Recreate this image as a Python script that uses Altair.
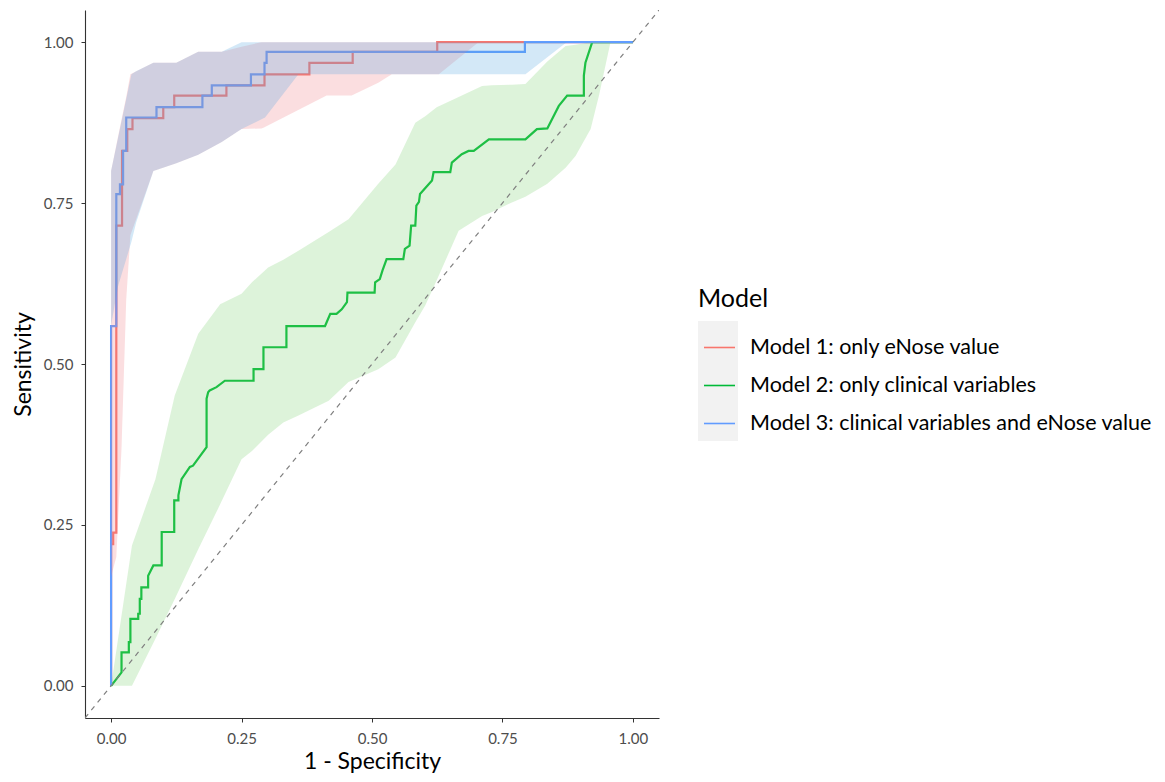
import altair as alt
import pandas as pd

FONT = "Lato"

models = [
    "Model 1: only eNose value",
    "Model 2: only clinical variables",
    "Model 3: clinical variables and eNose value",
]
line_colors = ["#F8766D", "#00BA38", "#619CFF"]
ribbon_colors = ["#EE7A85", "#77CF6B", "#4FA4E0"]
tick_values = [0.0, 0.25, 0.5, 0.75, 1.0]
diag = [-0.05, 1.05]

# ROC curves (1 - specificity, sensitivity)
m1_fpr = [0.000, 0.000, 0.004, 0.004, 0.010, 0.010, 0.021, 0.021, 0.031, 0.031,
          0.041, 0.041, 0.100, 0.100, 0.121, 0.121, 0.221, 0.221, 0.294, 0.294,
          0.380, 0.380, 0.463, 0.463, 0.625, 0.625, 1.000]
m1_tpr = [0.000, 0.220, 0.220, 0.238, 0.238, 0.715, 0.715, 0.831, 0.831, 0.865,
          0.865, 0.882, 0.882, 0.899, 0.899, 0.917, 0.917, 0.933, 0.933, 0.950,
          0.950, 0.968, 0.968, 0.985, 0.985, 1.000, 1.000]

m2_fpr = [0.000, 0.020, 0.020, 0.034, 0.034, 0.037, 0.037, 0.052, 0.052, 0.055,
          0.055, 0.058, 0.058, 0.071, 0.071, 0.081, 0.097, 0.097, 0.121, 0.121,
          0.129, 0.129, 0.135, 0.151, 0.157, 0.183, 0.183, 0.186, 0.189, 0.202,
          0.218, 0.273, 0.273, 0.292, 0.292, 0.336, 0.336, 0.410, 0.420, 0.432,
          0.442, 0.452, 0.453, 0.505, 0.506, 0.515, 0.520, 0.528, 0.560, 0.563,
          0.572, 0.575, 0.583, 0.585, 0.590, 0.592, 0.615, 0.618, 0.650, 0.653,
          0.672, 0.685, 0.695, 0.724, 0.794, 0.816, 0.836, 0.858, 0.874, 0.906,
          0.906, 0.909, 0.922, 1.000]
m2_tpr = [0.000, 0.021, 0.052, 0.052, 0.068, 0.068, 0.104, 0.104, 0.112, 0.112,
          0.135, 0.135, 0.153, 0.153, 0.171, 0.187, 0.187, 0.239, 0.239, 0.288,
          0.288, 0.296, 0.321, 0.340, 0.342, 0.371, 0.446, 0.456, 0.459, 0.464,
          0.474, 0.474, 0.492, 0.492, 0.526, 0.526, 0.559, 0.559, 0.578, 0.578,
          0.585, 0.596, 0.611, 0.611, 0.627, 0.632, 0.645, 0.663, 0.663, 0.679,
          0.684, 0.715, 0.715, 0.746, 0.752, 0.764, 0.785, 0.798, 0.798, 0.813,
          0.826, 0.831, 0.831, 0.849, 0.849, 0.865, 0.866, 0.901, 0.917, 0.917,
          0.948, 0.968, 1.000, 1.000]

m3_fpr = [0.000, 0.000, 0.010, 0.010, 0.017, 0.017, 0.023, 0.023, 0.029, 0.029,
          0.087, 0.087, 0.175, 0.175, 0.193, 0.193, 0.268, 0.268, 0.294, 0.294,
          0.298, 0.298, 0.793, 0.793, 1.000]
m3_tpr = [0.000, 0.559, 0.559, 0.764, 0.764, 0.779, 0.779, 0.831, 0.831, 0.883,
          0.883, 0.899, 0.899, 0.917, 0.917, 0.933, 0.933, 0.950, 0.950, 0.968,
          0.968, 0.985, 0.985, 1.000, 1.000]

# Confidence bands of sensitivity
r_x = [0.000, 0.010, 0.020, 0.029, 0.037, 0.081, 0.125, 0.167, 0.212, 0.250,
       0.288, 0.292, 0.413, 0.461, 0.512, 0.538, 0.628, 0.704, 1.000]
r_lo = [0.170, 0.200, 0.370, 0.600, 0.700, 0.800, 0.812, 0.825, 0.845, 0.865,
        0.866, 0.867, 0.917, 0.917, 0.937, 0.950, 0.950, 1.000, 1.000]
r_hi = [0.800, 0.840, 0.880, 0.915, 0.950, 0.968, 0.968, 0.985, 0.985, 0.993,
        1.000, 1.000, 1.000, 1.000, 1.000, 1.000, 1.000, 1.000, 1.000]

g_x = [0.000, 0.040, 0.085, 0.122, 0.167, 0.209, 0.250, 0.270, 0.301, 0.330,
       0.359, 0.417, 0.455, 0.512, 0.545, 0.583, 0.602, 0.624, 0.666, 0.711,
       0.730, 0.768, 0.794, 0.836, 0.871, 0.890, 0.919, 0.935, 0.957]
g_lo = [0.000, 0.000, 0.073, 0.135, 0.212, 0.282, 0.352, 0.365, 0.390, 0.409,
        0.420, 0.443, 0.472, 0.492, 0.510, 0.565, 0.591, 0.630, 0.707, 0.730,
        0.736, 0.751, 0.760, 0.780, 0.805, 0.823, 0.865, 0.917, 1.000]
g_hi = [0.000, 0.218, 0.321, 0.451, 0.547, 0.593, 0.609, 0.627, 0.650, 0.662,
        0.676, 0.705, 0.725, 0.780, 0.810, 0.875, 0.885, 0.899, 0.915, 0.932,
        0.933, 0.934, 0.935, 0.970, 0.994, 0.996, 1.000, 1.000, 1.000]

b_x = [0.000, 0.013, 0.039, 0.048, 0.081, 0.125, 0.167, 0.212, 0.250, 0.295,
       0.359, 0.794, 0.873, 1.000]
b_lo = [0.560, 0.620, 0.690, 0.720, 0.800, 0.812, 0.825, 0.845, 0.865, 0.883,
        0.950, 0.950, 1.000, 1.000]
b_hi = [0.800, 0.850, 0.950, 0.955, 0.968, 0.968, 0.985, 0.985, 1.000, 1.000,
        1.000, 1.000, 1.000, 1.000]


def curve(model, xs, ys):
    return pd.DataFrame({"Model": model, "fpr": xs, "tpr": ys, "idx": list(range(len(xs)))})


def band(xs, lo, hi):
    return pd.DataFrame({"fpr": xs, "lo": lo, "hi": hi})


lines_df = pd.concat([
    curve(models[0], m1_fpr, m1_tpr),
    curve(models[1], m2_fpr, m2_tpr),
    curve(models[2], m3_fpr, m3_tpr),
], ignore_index=True)

x_scale = alt.Scale(domain=[-0.05, 1.05], nice=False, zero=False)
y_scale = alt.Scale(domain=[-0.05, 1.05], nice=False, zero=False)

axis_common = dict(
    values=tick_values, format=".2f", grid=False,
    domainColor="#333333", domainWidth=1.1, tickColor="#333333", tickSize=4,
    labelColor="#4D4D4D", labelFontSize=15, labelFont=FONT,
    titleFont=FONT, titleFontSize=23, titleFontWeight="normal", titleColor="#000000",
)
x_axis = alt.Axis(title="1 - Specificity", labelPadding=9, titlePadding=4, **axis_common)
y_axis = alt.Axis(title="Sensitivity", labelPadding=8, titlePadding=8, **axis_common)

stroke_scale = alt.Scale(domain=models, range=line_colors)
legend = alt.Legend(
    title="Model", orient="none", legendX=613, legendY=277,
    symbolType="stroke", symbolSize=961, symbolStrokeWidth=1.6,
    labelFont=FONT, labelFontSize=21.5, labelColor="#000000", labelLimit=600,
    titleFont=FONT, titleFontSize=25, titleFontWeight="normal", titleColor="#000000",
    rowPadding=11, titlePadding=19, symbolOffset=5, labelOffset=14, padding=0,
)

line_layers = []
for m in models:
    line_layers.append(
        alt.Chart(lines_df).transform_filter(alt.datum.Model == m)
        .mark_line(strokeWidth=2.2, interpolate="linear")
        .encode(
            x=alt.X("fpr:Q", scale=x_scale, axis=x_axis),
            y=alt.Y("tpr:Q", scale=y_scale, axis=y_axis),
            stroke=alt.Stroke("Model:N", scale=stroke_scale, legend=legend),
            order=alt.Order("idx:Q"),
        )
    )

band_layers = []
for (xs, lo, hi), col in zip([(r_x, r_lo, r_hi), (g_x, g_lo, g_hi), (b_x, b_lo, b_hi)], ribbon_colors):
    band_layers.append(
        alt.Chart(band(xs, lo, hi)).mark_area(color=col, opacity=0.25, interpolate="linear")
        .encode(
            x=alt.X("fpr:Q", scale=x_scale, axis=x_axis),
            y=alt.Y("lo:Q", scale=y_scale, axis=y_axis),
            y2="hi:Q",
        )
    )

diag_layer = alt.Chart(pd.DataFrame({"d": diag})).mark_line(
    color="#7F7F7F", strokeWidth=1.2, strokeDash=[5, 5], clip=True
).encode(
    x=alt.X("d:Q", scale=x_scale, axis=x_axis),
    y=alt.Y("d:Q", scale=y_scale, axis=y_axis),
)

key_bg = alt.Chart(pd.DataFrame({"a": [0]})).mark_rect(color="#F2F2F2").encode(
    x=alt.value(613), x2=alt.value(653), y=alt.value(311), y2=alt.value(431)
)

chart = alt.layer(
    key_bg, *line_layers, *band_layers, diag_layer
).properties(
    width=574, height=708,
    padding={"left": 4, "top": 2, "right": 0, "bottom": 0},
).configure(font=FONT, view=alt.ViewConfig(stroke=None))

chart.save("out.html", embed_options={"renderer": "svg", "actions": False})
